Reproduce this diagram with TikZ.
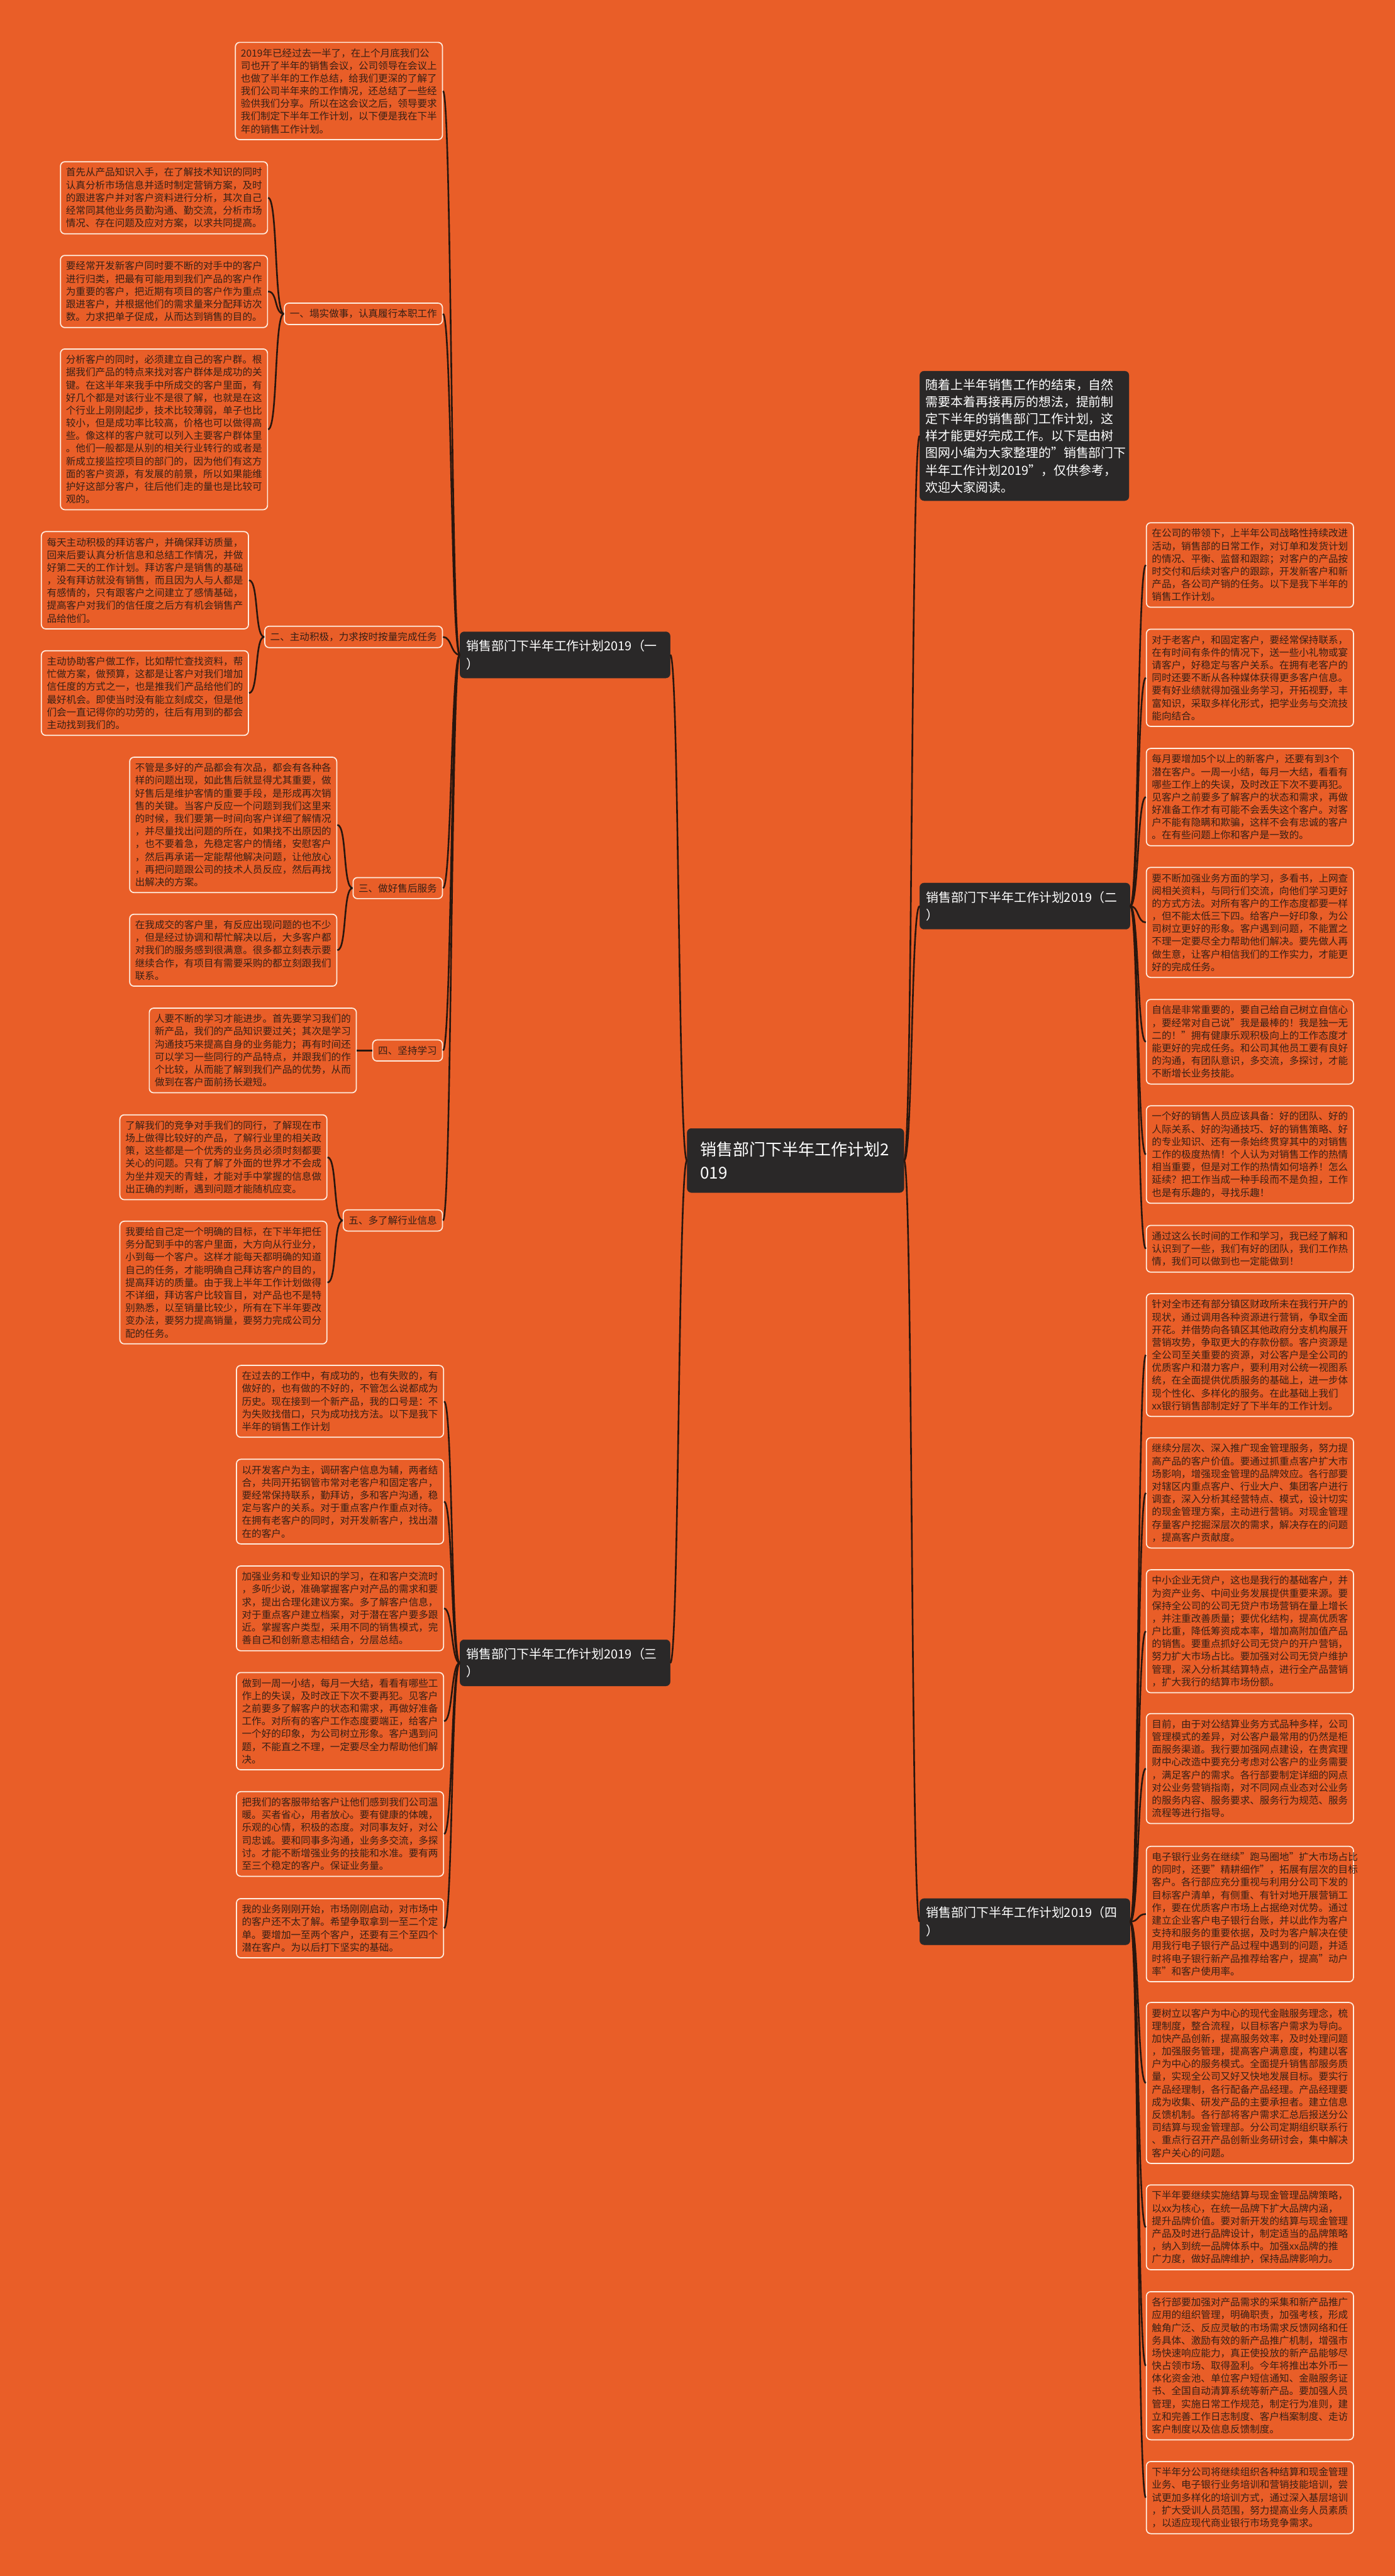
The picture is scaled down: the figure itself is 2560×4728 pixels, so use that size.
\documentclass[tikz,border=0pt]{standalone}
\usepackage{fontspec}
\setmainfont{Noto Sans CJK SC}
\definecolor{bgorange}{RGB}{233,94,40}
\definecolor{rim}{RGB}{255,236,222}
\definecolor{ink}{RGB}{55,32,22}
\definecolor{hubgray}{RGB}{42,40,40}
\definecolor{wire}{RGB}{40,22,14}
\begin{document}
\begin{tikzpicture}[x=1pt,y=-1pt,
    note/.style={draw=rim,line width=2pt,rounded corners=8pt,fill=bgorange,text=ink,align=left,
      text width=360pt,inner xsep=10pt,inner ysep=11pt,font=\fontsize{18pt}{23.3pt}\selectfont},
    tag/.style={draw=rim,line width=2pt,rounded corners=8pt,fill=bgorange,text=ink,anchor=east,
      inner xsep=10pt,inner ysep=11pt,font=\fontsize{18pt}{23.3pt}\selectfont},
    hub/.style={draw=hubgray,fill=hubgray,text=white,rounded corners=8pt,align=left},
    plan/.style={hub,text width=362pt,inner xsep=12pt,inner ysep=15pt,font=\fontsize{23pt}{33pt}\selectfont},
    link/.style={draw=wire,line width=3pt}]
        \fill[bgorange] (0,0) rectangle (2560,4728);

        % centre and main branches
        \node[hub,text width=350pt,inner xsep=24pt,inner ysep=25pt,font=\fontsize{30pt}{42pt}\selectfont] (root) at (1460,2130) {销售部门下半年工作计划2\\019};
        \node[hub,text width=362pt,inner xsep=11pt,inner ysep=14pt,font=\fontsize{23pt}{31.4pt}\selectfont] (intro) at (1880,800) {随着上半年销售工作的结束，自然\\需要本着再接再厉的想法，提前制\\定下半年的销售部门工作计划，这\\样才能更好完成工作。以下是由树\\图网小编为大家整理的"销售部门下\\半年工作计划2019"，仅供参考，\\欢迎大家阅读。};
        \node[plan] (plan1) at (1037,1202) {销售部门下半年工作计划2019（一\\）};
        \node[plan] (plan2) at (1881,1663) {销售部门下半年工作计划2019（二\\）};
        \node[plan] (plan3) at (1037,3052) {销售部门下半年工作计划2019（三\\）};
        \node[plan] (plan4) at (1881,3527) {销售部门下半年工作计划2019（四\\）};

        \draw[link] (root.east) .. controls +(16,0) and +(-16,0) .. (intro.west);
        \draw[link] (root.west) .. controls +(-16,0) and +(16,0) .. (plan1.east);
        \draw[link] (root.east) .. controls +(16,0) and +(-16,0) .. (plan2.west);
        \draw[link] (root.west) .. controls +(-16,0) and +(16,0) .. (plan3.east);
        \draw[link] (root.east) .. controls +(16,0) and +(-16,0) .. (plan4.west);

        % plan (一)
        \node[note] (opening) at (622,167) {2019年已经过去一半了，在上个月底我们公\\司也开了半年的销售会议，公司领导在会议上\\也做了半年的工作总结，给我们更深的了解了\\我们公司半年来的工作情况，还总结了一些经\\验供我们分享。所以在这会议之后，领导要求\\我们制定下半年工作计划，以下便是我在下半\\年的销售工作计划。};
        \node[tag] (work) at (813,576) {一、塌实做事，认真履行本职工作};
        \node[tag] (active) at (813,1169) {二、主动积极，力求按时按量完成任务};
        \node[tag] (service) at (813,1630) {三、做好售后服务};
        \node[tag] (study) at (813,1928) {四、坚持学习};
        \node[tag] (info) at (813,2240) {五、多了解行业信息};

        \node[note] (work1) at (301,363) {首先从产品知识入手，在了解技术知识的同时\\认真分析市场信息并适时制定营销方案，及时\\的跟进客户并对客户资料进行分析，其次自己\\经常同其他业务员勤沟通、勤交流，分析市场\\情况、存在问题及应对方案，以求共同提高。};
        \node[note] (work2) at (301,535) {要经常开发新客户同时要不断的对手中的客户\\进行归类，把最有可能用到我们产品的客户作\\为重要的客户，把近期有项目的客户作为重点\\跟进客户，并根据他们的需求量来分配拜访次\\数。力求把单子促成，从而达到销售的目的。};
        \node[note] (work3) at (301,788) {分析客户的同时，必须建立自己的客户群。根\\据我们产品的特点来找对客户群体是成功的关\\键。在这半年来我手中所成交的客户里面，有\\好几个都是对该行业不是很了解，也就是在这\\个行业上刚刚起步，技术比较薄弱，单子也比\\较小，但是成功率比较高，价格也可以做得高\\些。像这样的客户就可以列入主要客户群体里\\。他们一般都是从别的相关行业转行的或者是\\新成立接监控项目的部门的，因为他们有这方\\面的客户资源，有发展的前景，所以如果能维\\护好这部分客户，往后他们走的量也是比较可\\观的。};
        \node[note] (active1) at (266,1065) {每天主动积极的拜访客户，并确保拜访质量，\\回来后要认真分析信息和总结工作情况，并做\\好第二天的工作计划。拜访客户是销售的基础\\，没有拜访就没有销售，而且因为人与人都是\\有感情的，只有跟客户之间建立了感情基础，\\提高客户对我们的信任度之后方有机会销售产\\品给他们。};
        \node[note] (active2) at (266,1272) {主动协助客户做工作，比如帮忙查找资料，帮\\忙做方案，做预算，这都是让客户对我们增加\\信任度的方式之一，也是推我们产品给他们的\\最好机会。即使当时没有能立刻成交，但是他\\们会一直记得你的功劳的，往后有用到的都会\\主动找到我们的。};
        \node[note] (service1) at (428,1514) {不管是多好的产品都会有次品，都会有各种各\\样的问题出现，如此售后就显得尤其重要，做\\好售后是维护客情的重要手段，是形成再次销\\售的关键。当客户反应一个问题到我们这里来\\的时候，我们要第一时间向客户详细了解情况\\，并尽量找出问题的所在，如果找不出原因的\\，也不要着急，先稳定客户的情绪，安慰客户\\，然后再承诺一定能帮他解决问题，让他放心\\，再把问题跟公司的技术人员反应，然后再找\\出解决的方案。};
        \node[note] (service2) at (428,1744) {在我成交的客户里，有反应出现问题的也不少\\，但是经过协调和帮忙解决以后，大多客户都\\对我们的服务感到很满意。很多都立刻表示要\\继续合作，有项目有需要采购的都立刻跟我们\\联系。};
        \node[note] (study1) at (464,1928) {人要不断的学习才能进步。首先要学习我们的\\新产品，我们的产品知识要过关；其次是学习\\沟通技巧来提高自身的业务能力；再有时间还\\可以学习一些同行的产品特点，并跟我们的作\\个比较，从而能了解到我们产品的优势，从而\\做到在客户面前扬长避短。};
        \node[note] (info1) at (410,2124) {了解我们的竞争对手我们的同行，了解现在市\\场上做得比较好的产品，了解行业里的相关政\\策，这些都是一个优秀的业务员必须时刻都要\\关心的问题。只有了解了外面的世界才不会成\\为坐井观天的青蛙，才能对手中掌握的信息做\\出正确的判断，遇到问题才能随机应变。};
        \node[note] (info2) at (410,2354) {我要给自己定一个明确的目标，在下半年把任\\务分配到手中的客户里面，大方向从行业分，\\小到每一个客户。这样才能每天都明确的知道\\自己的任务，才能明确自己拜访客户的目的，\\提高拜访的质量。由于我上半年工作计划做得\\不详细，拜访客户比较盲目，对产品也不是特\\别熟悉，以至销量比较少，所有在下半年要改\\变办法，要努力提高销量，要努力完成公司分\\配的任务。};

        \draw[link] (plan1.west) .. controls +(-16,0) and +(16,0) .. (opening.east);
        \draw[link] (plan1.west) .. controls +(-16,0) and +(16,0) .. (work.east);
        \draw[link] (plan1.west) .. controls +(-16,0) and +(16,0) .. (active.east);
        \draw[link] (plan1.west) .. controls +(-16,0) and +(16,0) .. (service.east);
        \draw[link] (plan1.west) .. controls +(-16,0) and +(16,0) .. (study.east);
        \draw[link] (plan1.west) .. controls +(-16,0) and +(16,0) .. (info.east);
        \draw[link] (work.west) .. controls +(-18,0) and +(18,0) .. (work1.east);
        \draw[link] (work.west) .. controls +(-18,0) and +(18,0) .. (work2.east);
        \draw[link] (work.west) .. controls +(-18,0) and +(18,0) .. (work3.east);
        \draw[link] (active.west) .. controls +(-18,0) and +(18,0) .. (active1.east);
        \draw[link] (active.west) .. controls +(-18,0) and +(18,0) .. (active2.east);
        \draw[link] (service.west) .. controls +(-18,0) and +(18,0) .. (service1.east);
        \draw[link] (service.west) .. controls +(-18,0) and +(18,0) .. (service2.east);
        \draw[link] (study.west) -- (study1.east);
        \draw[link] (info.west) .. controls +(-18,0) and +(18,0) .. (info1.east);
        \draw[link] (info.west) .. controls +(-18,0) and +(18,0) .. (info2.east);

        % plan (二)
        \node[note] (left1) at (2294,1037) {在公司的带领下，上半年公司战略性持续改进\\活动，销售部的日常工作，对订单和发货计划\\的情况、平衡、监督和跟踪；对客户的产品按\\时交付和后续对客户的跟踪，开发新客户和新\\产品，各公司产销的任务。以下是我下半年的\\销售工作计划。};
        \node[note] (left2) at (2294,1244) {对于老客户，和固定客户，要经常保持联系，\\在有时间有条件的情况下，送一些小礼物或宴\\请客户，好稳定与客户关系。在拥有老客户的\\同时还要不断从各种媒体获得更多客户信息。\\要有好业绩就得加强业务学习，开拓视野，丰\\富知识，采取多样化形式，把学业务与交流技\\能向结合。};
        \node[note] (left3) at (2294,1463) {每月要增加5个以上的新客户，还要有到3个\\潜在客户。一周一小结，每月一大结，看看有\\哪些工作上的失误，及时改正下次不要再犯。\\见客户之前要多了解客户的状态和需求，再做\\好准备工作才有可能不会丢失这个客户。对客\\户不能有隐瞒和欺骗，这样不会有忠诚的客户\\。在有些问题上你和客户是一致的。};
        \node[note] (left4) at (2294,1693) {要不断加强业务方面的学习，多看书，上网查\\阅相关资料，与同行们交流，向他们学习更好\\的方式方法。对所有客户的工作态度都要一样\\，但不能太低三下四。给客户一好印象，为公\\司树立更好的形象。客户遇到问题，不能置之\\不理一定要尽全力帮助他们解决。要先做人再\\做生意，让客户相信我们的工作实力，才能更\\好的完成任务。};
        \node[note] (left5) at (2294,1912) {自信是非常重要的，要自己给自己树立自信心\\，要经常对自己说"我是最棒的！我是独一无\\二的！"拥有健康乐观积极向上的工作态度才\\能更好的完成任务。和公司其他员工要有良好\\的沟通，有团队意识，多交流，多探讨，才能\\不断增长业务技能。};
        \node[note] (left6) at (2294,2119) {一个好的销售人员应该具备：好的团队、好的\\人际关系、好的沟通技巧、好的销售策略、好\\的专业知识、还有一条始终贯穿其中的对销售\\工作的极度热情！个人认为对销售工作的热情\\相当重要，但是对工作的热情如何培养！怎么\\延续？把工作当成一种手段而不是负担，工作\\也是有乐趣的，寻找乐趣！};
        \node[note] (left7) at (2294,2292) {通过这么长时间的工作和学习，我已经了解和\\认识到了一些，我们有好的团队，我们工作热\\情，我们可以做到也一定能做到！};
        \draw[link] (plan2.east) .. controls +(16,0) and +(-16,0) .. (left1.west);
        \draw[link] (plan2.east) .. controls +(16,0) and +(-16,0) .. (left2.west);
        \draw[link] (plan2.east) .. controls +(16,0) and +(-16,0) .. (left3.west);
        \draw[link] (plan2.east) .. controls +(16,0) and +(-16,0) .. (left4.west);
        \draw[link] (plan2.east) .. controls +(16,0) and +(-16,0) .. (left5.west);
        \draw[link] (plan2.east) .. controls +(16,0) and +(-16,0) .. (left6.west);
        \draw[link] (plan2.east) .. controls +(16,0) and +(-16,0) .. (left7.west);

        % plan (三)
        \node[note] (past1) at (624,2572) {在过去的工作中，有成功的，也有失败的，有\\做好的，也有做的不好的，不管怎么说都成为\\历史。现在接到一个新产品，我的口号是：不\\为失败找借口，只为成功找方法。以下是我下\\半年的销售工作计划};
        \node[note] (past2) at (624,2756) {以开发客户为主，调研客户信息为辅，两者结\\合，共同开拓钢管市常对老客户和固定客户，\\要经常保持联系，勤拜访，多和客户沟通，稳\\定与客户的关系。对于重点客户作重点对待。\\在拥有老客户的同时，对开发新客户，找出潜\\在的客户。};
        \node[note] (past3) at (624,2952) {加强业务和专业知识的学习，在和客户交流时\\，多听少说，准确掌握客户对产品的需求和要\\求，提出合理化建议方案。多了解客户信息，\\对于重点客户建立档案，对于潜在客户要多跟\\近。掌握客户类型，采用不同的销售模式，完\\善自己和创新意志相结合，分层总结。};
        \node[note] (past4) at (624,3159) {做到一周一小结，每月一大结，看看有哪些工\\作上的失误，及时改正下次不要再犯。见客户\\之前要多了解客户的状态和需求，再做好准备\\工作。对所有的客户工作态度要端正，给客户\\一个好的印象，为公司树立形象。客户遇到问\\题，不能直之不理，一定要尽全力帮助他们解\\决。};
        \node[note] (past5) at (624,3366) {把我们的客服带给客户让他们感到我们公司温\\暖。买者省心，用者放心。要有健康的体魄，\\乐观的心情，积极的态度。对同事友好，对公\\司忠诚。要和同事多沟通，业务多交流，多探\\讨。才能不断增强业务的技能和水准。要有两\\至三个稳定的客户。保证业务量。};
        \node[note] (past6) at (624,3539) {我的业务刚刚开始，市场刚刚启动，对市场中\\的客户还不太了解。希望争取拿到一至二个定\\单。要增加一至两个客户，还要有三个至四个\\潜在客户。为以后打下坚实的基础。};
        \draw[link] (plan3.west) .. controls +(-16,0) and +(16,0) .. (past1.east);
        \draw[link] (plan3.west) .. controls +(-16,0) and +(16,0) .. (past2.east);
        \draw[link] (plan3.west) .. controls +(-16,0) and +(16,0) .. (past3.east);
        \draw[link] (plan3.west) .. controls +(-16,0) and +(16,0) .. (past4.east);
        \draw[link] (plan3.west) .. controls +(-16,0) and +(16,0) .. (past5.east);
        \draw[link] (plan3.west) .. controls +(-16,0) and +(16,0) .. (past6.east);

        % plan (四)
        \node[note] (bank1) at (2294,2487) {针对全市还有部分镇区财政所未在我行开户的\\现状，通过调用各种资源进行营销，争取全面\\开花。并借势向各镇区其他政府分支机构展开\\营销攻势，争取更大的存款份额。客户资源是\\全公司至关重要的资源，对公客户是全公司的\\优质客户和潜力客户，要利用对公统一视图系\\统，在全面提供优质服务的基础上，进一步体\\现个性化、多样化的服务。在此基础上我们\\xx银行销售部制定好了下半年的工作计划。};
        \node[note] (bank2) at (2294,2740) {继续分层次、深入推广现金管理服务，努力提\\高产品的客户价值。要通过抓重点客户扩大市\\场影响，增强现金管理的品牌效应。各行部要\\对辖区内重点客户、行业大户、集团客户进行\\调查，深入分析其经营特点、模式，设计切实\\的现金管理方案，主动进行营销。对现金管理\\存量客户挖掘深层次的需求，解决存在的问题\\，提高客户贡献度。};
        \node[note] (bank3) at (2294,2994) {中小企业无贷户，这也是我行的基础客户，并\\为资产业务、中间业务发展提供重要来源。要\\保持全公司的公司无贷户市场营销在量上增长\\，并注重改善质量；要优化结构，提高优质客\\户比重，降低筹资成本率，增加高附加值产品\\的销售。要重点抓好公司无贷户的开户营销，\\努力扩大市场占比。要加强对公司无贷户维护\\管理，深入分析其结算特点，进行全产品营销\\，扩大我行的结算市场份额。};
        \node[note] (bank4) at (2294,3246) {目前，由于对公结算业务方式品种多样，公司\\管理模式的差异，对公客户最常用的仍然是柜\\面服务渠道。我行要加强网点建设，在贵宾理\\财中心改造中要充分考虑对公客户的业务需要\\，满足客户的需求。各行部要制定详细的网点\\对公业务营销指南，对不同网点业态对公业务\\的服务内容、服务要求、服务行为规范、服务\\流程等进行指导。};
        \node[note] (bank5) at (2294,3513) {电子银行业务在继续"跑马圈地"扩大市场占比\\的同时，还要"精耕细作"，拓展有层次的目标\\客户。各行部应充分重视与利用分公司下发的\\目标客户清单，有侧重、有针对地开展营销工\\作，要在优质客户市场上占据绝对优势。通过\\建立企业客户电子银行台账，并以此作为客户\\支持和服务的重要依据，及时为客户解决在使\\用我行电子银行产品过程中遇到的问题，并适\\时将电子银行新产品推荐给客户，提高"动户\\率"和客户使用率。};
        \node[note] (bank6) at (2294,3823) {要树立以客户为中心的现代金融服务理念，梳\\理制度，整合流程，以目标客户需求为导向。\\加快产品创新，提高服务效率，及时处理问题\\，加强服务管理，提高客户满意度，构建以客\\户为中心的服务模式。全面提升销售部服务质\\量，实现全公司又好又快地发展目标。要实行\\产品经理制，各行配备产品经理。产品经理要\\成为收集、研发产品的主要承担者。建立信息\\反馈机制。各行部将客户需求汇总后报送分公\\司结算与现金管理部。分公司定期组织联系行\\、重点行召开产品创新业务研讨会，集中解决\\客户关心的问题。};
        \node[note] (bank7) at (2294,4088) {下半年要继续实施结算与现金管理品牌策略，\\以xx为核心，在统一品牌下扩大品牌内涵，\\提升品牌价值。要对新开发的结算与现金管理\\产品及时进行品牌设计，制定适当的品牌策略\\，纳入到统一品牌体系中。加强xx品牌的推\\广力度，做好品牌维护，保持品牌影响力。};
        \node[note] (bank8) at (2294,4342) {各行部要加强对产品需求的采集和新产品推广\\应用的组织管理，明确职责，加强考核，形成\\触角广泛、反应灵敏的市场需求反馈网络和任\\务具体、激励有效的新产品推广机制，增强市\\场快速响应能力，真正使投放的新产品能够尽\\快占领市场、取得盈利。今年将推出本外币一\\体化资金池、单位客户短信通知、金融服务证\\书、全国自动清算系统等新产品。要加强人员\\管理，实施日常工作规范，制定行为准则，建\\立和完善工作日志制度、客户档案制度、走访\\客户制度以及信息反馈制度。};
        \node[note] (bank9) at (2294,4584) {下半年分公司将继续组织各种结算和现金管理\\业务、电子银行业务培训和营销技能培训，尝\\试更加多样化的培训方式，通过深入基层培训\\，扩大受训人员范围，努力提高业务人员素质\\，以适应现代商业银行市场竞争需求。};
        \draw[link] (plan4.east) .. controls +(16,0) and +(-16,0) .. (bank1.west);
        \draw[link] (plan4.east) .. controls +(16,0) and +(-16,0) .. (bank2.west);
        \draw[link] (plan4.east) .. controls +(16,0) and +(-16,0) .. (bank3.west);
        \draw[link] (plan4.east) .. controls +(16,0) and +(-16,0) .. (bank4.west);
        \draw[link] (plan4.east) .. controls +(16,0) and +(-16,0) .. (bank5.west);
        \draw[link] (plan4.east) .. controls +(16,0) and +(-16,0) .. (bank6.west);
        \draw[link] (plan4.east) .. controls +(16,0) and +(-16,0) .. (bank7.west);
        \draw[link] (plan4.east) .. controls +(16,0) and +(-16,0) .. (bank8.west);
        \draw[link] (plan4.east) .. controls +(16,0) and +(-16,0) .. (bank9.west);
\end{tikzpicture}
\end{document}
